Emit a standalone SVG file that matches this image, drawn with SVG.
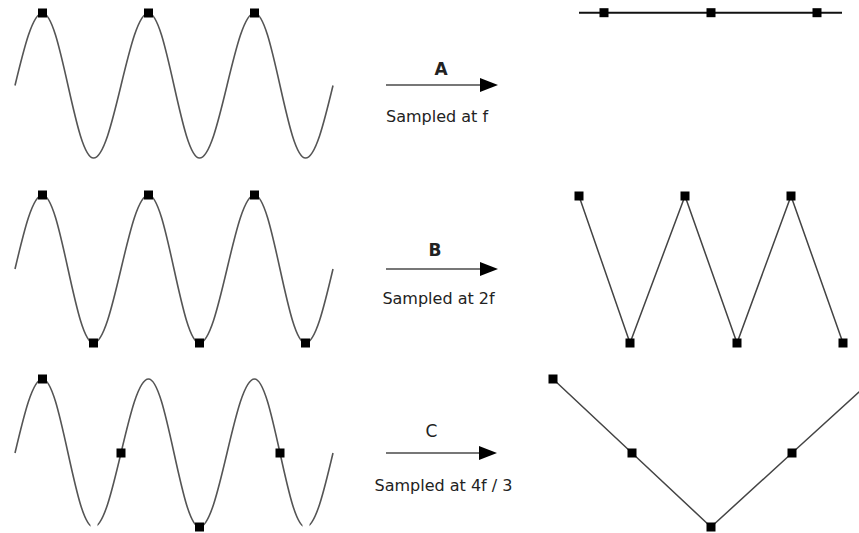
<svg xmlns="http://www.w3.org/2000/svg" width="859" height="533" viewBox="0 0 859 533">
<style>
.wave{fill:none;stroke:#555;stroke-width:1.6}
.pt{fill:#000}
.arrow{stroke:#777;stroke-width:2;fill:none}
.lbl{font-family:"DejaVu Sans",sans-serif;font-size:16px;fill:#222;text-anchor:middle}
.big{font-size:17px}
.bold{font-weight:bold}
.seg{fill:none;stroke:#444;stroke-width:1.5}
</style>
<defs>
<marker id="ah" markerUnits="userSpaceOnUse" markerWidth="18" markerHeight="14" viewBox="0 0 18 14" refX="2" refY="7" orient="auto">
<path d="M0,0 L18,7 L0,14 z" fill="#000"/>
</marker>
<clipPath id="gapClip">
<path clip-rule="evenodd" d="M0,360 H340 V533 H0 Z M90.5,524 h7 v9 h-7 Z M302.5,524 h7 v9 h-7 Z"/>
</clipPath>
</defs>
<rect width="859" height="533" fill="#fff"/>

<g id="waveA">
<path class="wave" d="M15,85.5 c8.97,-37.14 17.55,-72.5 27.5,-72.5 c9.23,0 17.18,35.36 25.5,72.5 c8.32,37.14 16.27,72.5 25.5,72.5 c9.950,0 18.53,-35.36 27.5,-72.5 c8.97,-37.14 17.55,-72.5 27.5,-72.5 c9.23,0 17.18,35.36 25.5,72.5 c8.32,37.14 16.27,72.5 25.5,72.5 c9.95,0 18.53,-35.36 27.5,-72.5 c8.97,-37.14 17.55,-72.5 27.5,-72.5 c9.23,0 17.18,35.36 25.5,72.5 c8.32,37.14 16.27,72.5 25.5,72.5 c9.95,0 18.53,-35.36 27.5,-72.5"/>
<rect class="pt" x="38" y="8.5" width="9" height="9"/>
<rect class="pt" x="144" y="8.5" width="9" height="9"/>
<rect class="pt" x="250" y="8.5" width="9" height="9"/>
</g>

<g id="waveB">
<path class="wave" d="M15,269 c8.97,-37.91 17.55,-74 27.5,-74 c9.23,0 17.18,36.09 25.5,74 c8.32,37.91 16.27,74 25.5,74 c9.95,0 18.53,-36.09 27.5,-74 c8.97,-37.91 17.55,-74 27.5,-74 c9.23,0 17.18,36.09 25.5,74 c8.32,37.91 16.27,74 25.5,74 c9.95,0 18.53,-36.09 27.5,-74 c8.97,-37.91 17.55,-74 27.5,-74 c9.23,0 17.18,36.09 25.5,74 c8.32,37.91 16.27,74 25.5,74 c9.95,0 18.53,-36.09 27.5,-74"/>
<rect class="pt" x="38" y="190.5" width="9" height="9"/>
<rect class="pt" x="144" y="190.5" width="9" height="9"/>
<rect class="pt" x="250" y="190.5" width="9" height="9"/>
<rect class="pt" x="89" y="338.5" width="9" height="9"/>
<rect class="pt" x="195" y="338.5" width="9" height="9"/>
<rect class="pt" x="301" y="338.5" width="9" height="9"/>
</g>

<g id="waveC">
<path class="wave" clip-path="url(#gapClip)" d="M15,453 c8.97,-37.91 17.55,-74 27.5,-74 c9.23,0 17.18,36.09 25.5,74 c8.32,37.91 16.27,74 25.5,74 c9.95,0 18.53,-36.09 27.5,-74 c8.97,-37.91 17.55,-74 27.5,-74 c9.23,0 17.18,36.09 25.5,74 c8.32,37.91 16.27,74 25.5,74 c9.95,0 18.53,-36.09 27.5,-74 c8.97,-37.91 17.55,-74 27.5,-74 c9.23,0 17.18,36.09 25.5,74 c8.32,37.91 16.27,74 25.5,74 c9.95,0 18.53,-36.09 27.5,-74"/>
<rect class="pt" x="38" y="374.5" width="9" height="9"/>
<rect class="pt" x="116.5" y="448.5" width="9" height="9"/>
<rect class="pt" x="195" y="522.5" width="9" height="9"/>
<rect class="pt" x="275.5" y="448.5" width="9" height="9"/>
</g>

<g id="connectors">
<line class="arrow" x1="386" y1="85" x2="482" y2="85" marker-end="url(#ah)"/>
<line class="arrow" x1="386" y1="269" x2="482" y2="269" marker-end="url(#ah)"/>
<line class="arrow" x1="386" y1="453" x2="481" y2="453" marker-end="url(#ah)"/>
</g>

<g id="labelA">
<text class="lbl big bold" x="441" y="75">A</text>
<text class="lbl" x="437" y="122">Sampled at f</text>
</g>
<g id="labelB">
<text class="lbl big bold" x="435" y="256">B</text>
<text class="lbl" x="438.5" y="304">Sampled at 2f</text>
</g>
<g id="labelC">
<text class="lbl big" x="431.5" y="437">C</text>
<text class="lbl" x="443.5" y="491">Sampled at 4f / 3</text>
</g>

<g id="resultA">
<line x1="579" y1="12.7" x2="842" y2="12.7" stroke="#111" stroke-width="2"/>
<rect class="pt" x="599.5" y="8.2" width="9" height="9"/>
<rect class="pt" x="706.5" y="8.2" width="9" height="9"/>
<rect class="pt" x="812.5" y="8.2" width="9" height="9"/>
</g>

<g id="resultB">
<polyline class="seg" points="579,196 630,343 685,196 737,343 791,196 843,343"/>
<rect class="pt" x="574.5" y="191.5" width="9" height="9"/>
<rect class="pt" x="625.5" y="338.5" width="9" height="9"/>
<rect class="pt" x="680.5" y="191.5" width="9" height="9"/>
<rect class="pt" x="732.5" y="338.5" width="9" height="9"/>
<rect class="pt" x="786.5" y="191.5" width="9" height="9"/>
<rect class="pt" x="838.5" y="338.5" width="9" height="9"/>
</g>

<g id="resultC">
<polyline class="seg" stroke="#555" points="553,379 632,453 711,527 792,453 862,389.2"/>
<rect class="pt" x="548.5" y="374.5" width="9" height="9"/>
<rect class="pt" x="627.5" y="448.5" width="9" height="9"/>
<rect class="pt" x="706.5" y="522.5" width="9" height="9"/>
<rect class="pt" x="787.5" y="448.5" width="9" height="9"/>
</g>
</svg>
